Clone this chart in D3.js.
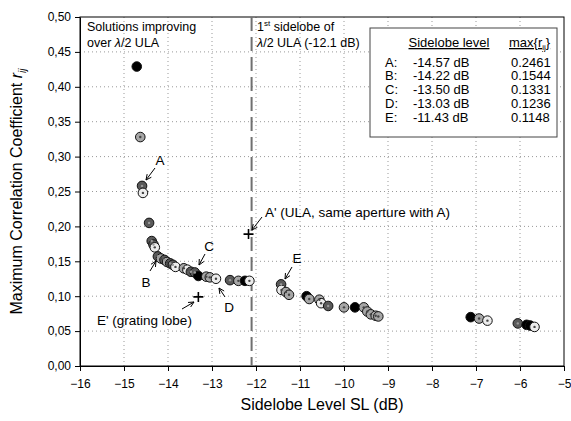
<!DOCTYPE html>
<html>
<head>
<meta charset="utf-8">
<script src="https://cdn.jsdelivr.net/npm/d3@7"></script>
<style>
  body { margin: 0; background: #fff; }
  svg { font-family: "Liberation Sans", Arial, sans-serif; }
  .grid line { stroke: #999; stroke-dasharray: 1,3; }
  .axis text { font-size: 12px; fill: #000; }
  .axis path, .axis line { stroke: #000; }
</style>
</head>
<body>
<div id="chart"></div>
<script>
// sidelobe level (dB), max correlation coefficient, marker shade
const sidelobe = [-14.71, -14.63, -14.59, -14.57, -14.43, -14.37, -14.33, -14.30, -14.23, -14.16,
  -14.08, -14.02, -13.95, -13.89, -13.83, -13.64, -13.56, -13.48, -13.39, -13.31,
  -13.13, -13.05, -12.91, -12.59, -12.40, -12.25, -12.15, -11.43, -11.42, -11.32,
  -11.25, -10.85, -10.79, -10.56, -10.52, -10.36, -10.00, -9.75, -9.55, -9.47,
  -9.39, -9.28, -9.22, -7.12, -6.93, -6.74, -6.05, -5.85, -5.77, -5.67];
const maxCorr = [0.429, 0.328, 0.258, 0.248, 0.205, 0.179, 0.174, 0.170, 0.157, 0.154,
  0.152, 0.149, 0.147, 0.145, 0.142, 0.140, 0.138, 0.135, 0.134, 0.129,
  0.128, 0.127, 0.125, 0.123, 0.122, 0.122, 0.122, 0.117, 0.109, 0.106,
  0.102, 0.100, 0.096, 0.095, 0.090, 0.086, 0.084, 0.084, 0.084, 0.078,
  0.074, 0.072, 0.071, 0.070, 0.068, 0.065, 0.061, 0.059, 0.058, 0.056];
const shade = ['k', 'g', 'd', 'w', 'd', 'd', 'd', 'w', 'd', 'g',
  'd', 'g', 'd', 'd', 'w', 'g', 'w', 'd', 'd', 'k',
  'g', 'g', 'w', 'd', 'g', 'k', 'w', 'd', 'w', 'g',
  'g', 'k', 'g', 'g', 'w', 'd', 'g', 'k', 'g', 'g',
  'g', 'g', 'g', 'k', 'g', 'w', 'd', 'k', 'k', 'w'];

// reference crosses
const crossLabels = ["A'", "E'"];
const crossSL = [-12.17, -13.31];
const crossR = [0.189, 0.099];

const ulaSidelobe = -12.1;

const xTicks = d3.range(-16, -4, 1);
const yTicks = d3.range(0, 0.501, 0.05);

// legend table
const legendKeys = ['A:', 'B:', 'C:', 'D:', 'E:'];
const legendSL = ['-14.57 dB', '-14.22 dB', '-13.50 dB', '-13.03 dB', '-11.43 dB'];
const legendR = ['0.2461', '0.1544', '0.1331', '0.1236', '0.1148'];

const width = 571, height = 421;
const margin = { top: 17, right: 7, bottom: 55, left: 80 };
const iw = width - margin.left - margin.right;
const ih = height - margin.top - margin.bottom;

const svg = d3.select('#chart').append('svg')
  .attr('width', width)
  .attr('height', height);

const g = svg.append('g').attr('transform', `translate(${margin.left},${margin.top})`);

const x = d3.scaleLinear().domain([-16, -5]).range([0, iw]);
const y = d3.scaleLinear().domain([0, 0.5]).range([ih, 0]);

// grid
g.append('g').attr('class', 'grid')
  .selectAll('line.v').data(xTicks.slice(1, -1)).enter().append('line')
  .attr('x1', d => x(d)).attr('x2', d => x(d)).attr('y1', 0).attr('y2', ih);
g.append('g').attr('class', 'grid')
  .selectAll('line.h').data(yTicks.slice(1, -1)).enter().append('line')
  .attr('y1', d => y(d)).attr('y2', d => y(d)).attr('x1', 0).attr('x2', iw);

// frame
g.append('rect').attr('width', iw).attr('height', ih)
  .attr('fill', 'none').attr('stroke', '#000').attr('stroke-width', 1);

// axes
g.append('g').attr('class', 'axis')
  .attr('transform', `translate(0,${ih})`)
  .call(d3.axisBottom(x).tickValues(xTicks).tickSize(5).tickPadding(8).tickSizeOuter(0));
g.append('g').attr('class', 'axis')
  .call(d3.axisLeft(y).tickValues(yTicks).tickSize(5).tickPadding(4).tickSizeOuter(0)
    .tickFormat(d => d3.format('.2f')(d).replace('.', ',')));

// axis titles
svg.append('text')
  .attr('x', margin.left + iw / 2).attr('y', 410)
  .attr('text-anchor', 'middle').attr('font-size', 16)
  .text('Sidelobe Level SL (dB)');
const yt = svg.append('text')
  .attr('transform', `translate(22,${margin.top + ih / 2}) rotate(-90)`)
  .attr('text-anchor', 'middle').attr('font-size', 16);
yt.append('tspan').text('Maximum Correlation Coefficient ');
yt.append('tspan').attr('font-style', 'italic').text('r');
yt.append('tspan').attr('font-style', 'italic').attr('font-size', 10).attr('dy', 4).text('ij');

// ULA first sidelobe line
g.append('line')
  .attr('x1', x(ulaSidelobe)).attr('x2', x(ulaSidelobe))
  .attr('y1', 0).attr('y2', ih)
  .attr('stroke', '#707070').attr('stroke-width', 2)
  .attr('stroke-dasharray', '14,6');

// points
const fills = { k: '#000', d: '#5a5a5a', g: '#a6a6a6', w: '#ececec' };
const dots = { k: '#000', d: '#9a9a9a', g: '#444', w: '#444' };
const pts = sidelobe.map((s, i) => ({ s, r: maxCorr[i], c: shade[i] }));
g.selectAll('.pt').data(pts).enter().append('circle')
  .attr('class', 'pt')
  .attr('cx', d => x(d.s)).attr('cy', d => y(d.r)).attr('r', 4.8)
  .attr('fill', d => fills[d.c]).attr('stroke', '#111').attr('stroke-width', 1);
g.selectAll('.ptc').data(pts.filter(d => d.c !== 'k')).enter().append('circle')
  .attr('class', 'ptc')
  .attr('cx', d => x(d.s)).attr('cy', d => y(d.r)).attr('r', 1.2)
  .attr('fill', d => dots[d.c]);

// crosses
crossSL.forEach((s, i) => {
  const cx = x(s), cy = y(crossR[i]);
  g.append('path').attr('d', `M${cx - 5},${cy}H${cx + 5}M${cx},${cy - 5}V${cy + 5}`)
    .attr('stroke', '#000').attr('stroke-width', 1.6);
});

// annotations with arrows (page coordinates)
const ann = svg.append('g').attr('font-size', 13.5);
function arrow(x1, y1, x2, y2) {
  const a = Math.atan2(y2 - y1, x2 - x1), h = 6;
  const p1 = [x2 - h * Math.cos(a - 0.45), y2 - h * Math.sin(a - 0.45)];
  const p2 = [x2 - h * Math.cos(a + 0.45), y2 - h * Math.sin(a + 0.45)];
  ann.append('path')
    .attr('d', `M${x1},${y1}L${x2},${y2}M${p1[0]},${p1[1]}L${x2},${y2}L${p2[0]},${p2[1]}`)
    .attr('fill', 'none').attr('stroke', '#000').attr('stroke-width', 1);
}
function label(tx, ty, t, anchor) {
  ann.append('text').attr('x', tx).attr('y', ty).attr('dy', '0.35em')
    .attr('text-anchor', anchor || 'middle').text(t);
}
label(160, 160, 'A'); arrow(155, 168, 146, 180);
label(146, 282, 'B'); arrow(150, 271, 156, 261);
label(209, 246, 'C'); arrow(205, 254, 199, 265);
label(229, 307, 'D'); arrow(225, 297, 219, 288);
label(297, 258, 'E'); arrow(292, 267, 285, 279);
label(265, 212, "A' (ULA, same aperture with A)", 'start'); arrow(262, 217, 252, 230);
label(97, 320, "E' (grating lobe)", 'start'); arrow(182, 309, 194, 302);

// corner notes
const note = svg.append('g').attr('font-size', 12.5);
note.append('text').attr('x', 87).attr('y', 31).text('Solutions improving');
const n2 = note.append('text').attr('x', 87).attr('y', 47);
n2.append('tspan').text('over ');
n2.append('tspan').attr('font-style', 'italic').text('λ');
n2.append('tspan').text('/2 ULA');
const n3 = note.append('text').attr('x', 257).attr('y', 31);
n3.append('tspan').text('1');
n3.append('tspan').attr('font-size', 8).attr('dy', -5).text('st');
n3.append('tspan').attr('dy', 5).text(' sidelobe of');
const n4 = note.append('text').attr('x', 257).attr('y', 47);
n4.append('tspan').attr('font-style', 'italic').text('λ');
n4.append('tspan').text('/2 ULA (-12.1 dB)');

// legend table
const lg = svg.append('g').attr('font-size', 13);
lg.append('rect').attr('x', 370).attr('y', 28).attr('width', 187).attr('height', 109)
  .attr('fill', '#fff').attr('stroke', '#444').attr('stroke-width', 1);
lg.append('text').attr('x', 449).attr('y', 47).attr('text-anchor', 'middle')
  .attr('text-decoration', 'underline').text('Sidelobe level');
const mh = lg.append('text').attr('x', 509).attr('y', 47).attr('text-decoration', 'underline');
mh.append('tspan').text('max{r');
mh.append('tspan').attr('font-size', 8).attr('dy', 3).text('ij');
mh.append('tspan').attr('dy', -3).text('}');
legendKeys.forEach((k, i) => {
  const ty = 62 + i * 13.75;
  lg.append('text').attr('x', 385).attr('y', ty).attr('dy', '0.35em').text(k);
  lg.append('text').attr('x', 413).attr('y', ty).attr('dy', '0.35em').text(legendSL[i]);
  lg.append('text').attr('x', 511).attr('y', ty).attr('dy', '0.35em').text(legendR[i]);
});
</script>
</body>
</html>
